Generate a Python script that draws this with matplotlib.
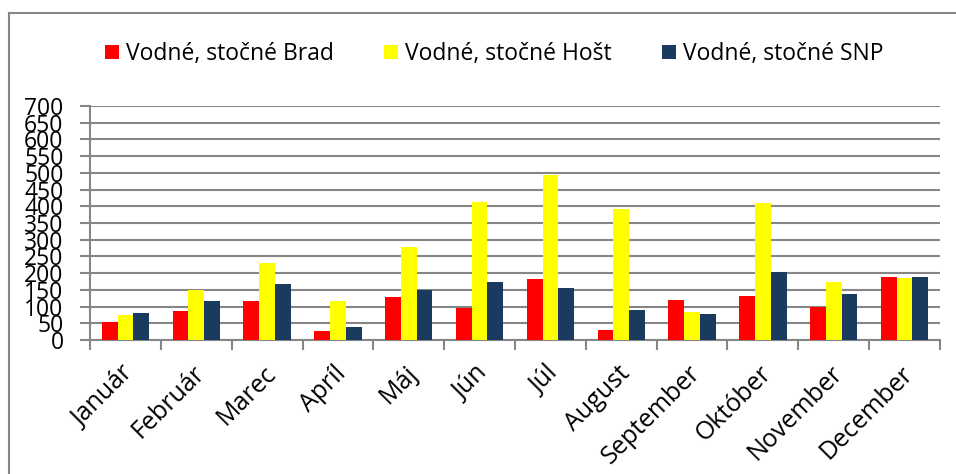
import matplotlib
matplotlib.use("Agg")
import matplotlib.pyplot as plt
from matplotlib.lines import Line2D
import matplotlib.transforms as mtransforms
import numpy as np

plt.rcParams['font.family'] = ['Open Sans', 'DejaVu Sans']

months = ["Január", "Február", "Marec", "Apríl", "Máj", "Jún", "Júl",
          "August", "September", "Október", "November", "December"]
brad = [53, 87, 118, 27, 128, 95, 182, 31, 120, 131, 99, 187]
host = [74, 150, 229, 118, 279, 413, 494, 392, 85, 410, 174, 185]
snp = [82, 118, 168, 38, 150, 174, 155, 90, 77, 202, 138, 187]
series_names = ["Vodné, stočné Brad", "Vodné, stočné Hošt", "Vodné, stočné SNP"]
colors = ["#FF0000", "#FFFF00", "#1B3A5F"]
yticks = list(range(0, 701, 50))

W, H = 956, 474
fig = plt.figure(figsize=(W / 100, H / 100), dpi=100)
ax = fig.add_axes([90 / W, 1 - 340 / H, 850 / W, 234 / H])

x = np.arange(len(months))
bw = 0.222
for i, (vals, c, name) in enumerate(zip([brad, host, snp], colors, series_names)):
    ax.bar(x + (i - 1) * bw, vals, width=bw, color=c, label=name, zorder=3)

ax.set_xlim(-0.5, len(months) - 0.5)
ax.set_ylim(0, 700)
ax.set_yticks(yticks)
ax.set_yticklabels([str(v) for v in yticks], fontsize=16.5)
ax.yaxis.grid(True, color="#868686", linewidth=1.5, zorder=0)
ax.set_xticks(x)
ax.set_xticklabels(months, rotation=45, ha="right", rotation_mode="anchor", fontsize=18)
ax.tick_params(axis="x", length=0, pad=15)
offset = mtransforms.ScaledTranslation(-4 / 100, 0, fig.dpi_scale_trans)
for lbl in ax.get_xticklabels():
    lbl.set_transform(lbl.get_transform() + offset)
ax.set_xticks(np.arange(-0.5, len(months), 1), minor=True)
ax.tick_params(axis="x", which="minor", length=7, width=1.5, color="#868686")
ax.tick_params(axis="y", length=7, width=1.5, color="#868686", pad=12)
for s in ["top", "right"]:
    ax.spines[s].set_visible(False)
for s in ["left", "bottom"]:
    ax.spines[s].set_color("#868686")
    ax.spines[s].set_linewidth(1.5)

leg = fig.legend(loc="center", bbox_to_anchor=(494 / W, 1 - 54 / H), ncol=3, frameon=False,
                 fontsize=16.5, handlelength=0.61, handleheight=0.61, handletextpad=0.3,
                 columnspacing=2.2)

fig.add_artist(Line2D([9 / W, 9 / W], [0, 1 - 13 / H], color="#868686", linewidth=1.5))
fig.add_artist(Line2D([9 / W, 1], [1 - 13 / H, 1 - 13 / H], color="#868686", linewidth=1.5))

fig.savefig("out.png", dpi=100)
